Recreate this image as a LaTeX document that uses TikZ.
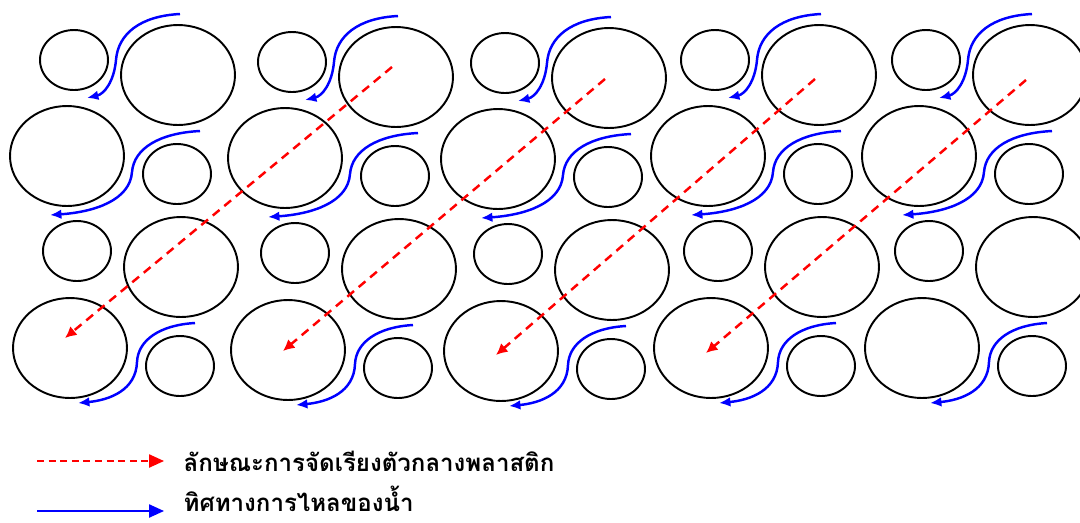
\documentclass[tikz,border=0pt]{standalone}
\usepackage{fontspec}
\usepackage{tikz}
\usetikzlibrary{shapes.geometric,arrows.meta}
\newfontfamily\thaifont[Script=Thai]{Loma}

\begin{document}
\begin{tikzpicture}[x=0.02cm, y=-0.02cm,
        pellet/.style={draw, ellipse, line width=1.1pt, inner sep=0pt},
        smallpellet/.style={pellet, minimum width=1.36cm, minimum height=1.2cm},
        bigpellet/.style={pellet, minimum width=2.28cm, minimum height=2cm},
        water/.style={blue, line width=1.4pt, -{Latex[length=6.5pt, width=5.5pt]}},
        media/.style={red, line width=1.4pt, dash pattern=on 5pt off 3.5pt, -{Latex[length=6.5pt, width=6.5pt]}},
        legred/.style={red, line width=0.9pt, dash pattern=on 4pt off 2.6pt, -{Triangle[length=8.5pt, width=7.5pt]}},
        legblue/.style={blue, line width=0.9pt, -{Triangle[length=8.5pt, width=7.5pt]}},
        legtext/.style={anchor=west, inner xsep=11pt, inner ysep=0pt, font=\thaifont\bfseries\fontsize{13.7pt}{16pt}\selectfont}]
        \useasboundingbox (0, 0) rectangle (1080, 522);
        \begin{scope}
        \clip (0, 0) rectangle (1080, 522);
        % Nodes
        \foreach \c/\dx/\dy in {1/0/0, 2/218/2, 3/431/3, 4/641/0, 5/852/0} {
            \begin{scope}[shift={(\dx, \dy)}]
                \node[smallpellet] (s\c-1) at (74, 60) {};
                \node[bigpellet] (b\c-1) at (178, 75) {};
                \node[bigpellet] (b\c-2) at (67, 156) {};
                \node[smallpellet] (s\c-2) at (177, 174) {};
                \node[smallpellet] (s\c-3) at (77, 251) {};
                \node[bigpellet] (b\c-3) at (181, 267) {};
                \node[bigpellet] (b\c-4) at (70, 348) {};
                \node[smallpellet] (s\c-4) at (180, 366) {};

                % Flow
                \draw[water] (180, 14) .. controls (140, 16) and (118, 34) .. (116, 60)
                    .. controls (114, 82) and (104, 94) .. (87, 98);
                \draw[water] (200, 131) .. controls (160, 133) and (134, 148) .. (132, 172)
                    .. controls (130, 200) and (95, 212) .. (50, 215);
                \draw[water] (195, 323) .. controls (160, 325) and (138, 340) .. (137, 362)
                    .. controls (136, 390) and (110, 400) .. (78, 403);
            \end{scope}
        }

        % Edges
        \foreach \c/\n/\u in {1/2/-10, 2/3/1, 3/4/4, 4/5/5}
            \draw[media] ([shift={(-4, \u)}]b\n-1.center) -- ([shift={(-5, \u)}]b\c-4.center);
        \end{scope}

        % Legend
        \coordinate (k1) at (37, 461);
        \coordinate (k2) at (37, 511);
        \node[legtext] (t1) at (164, 461) {ลักษณะการจัดเรียงตัวกลางพลาสติก};
        \node[legtext] (t2) at (164, 499) {ทิศทางการไหลของน้ำ};
        \draw[legred] (k1) -- (t1.west);
        \draw[legblue] (k2) -- (t2.west |- k2);
    \end{tikzpicture}
\end{document}
